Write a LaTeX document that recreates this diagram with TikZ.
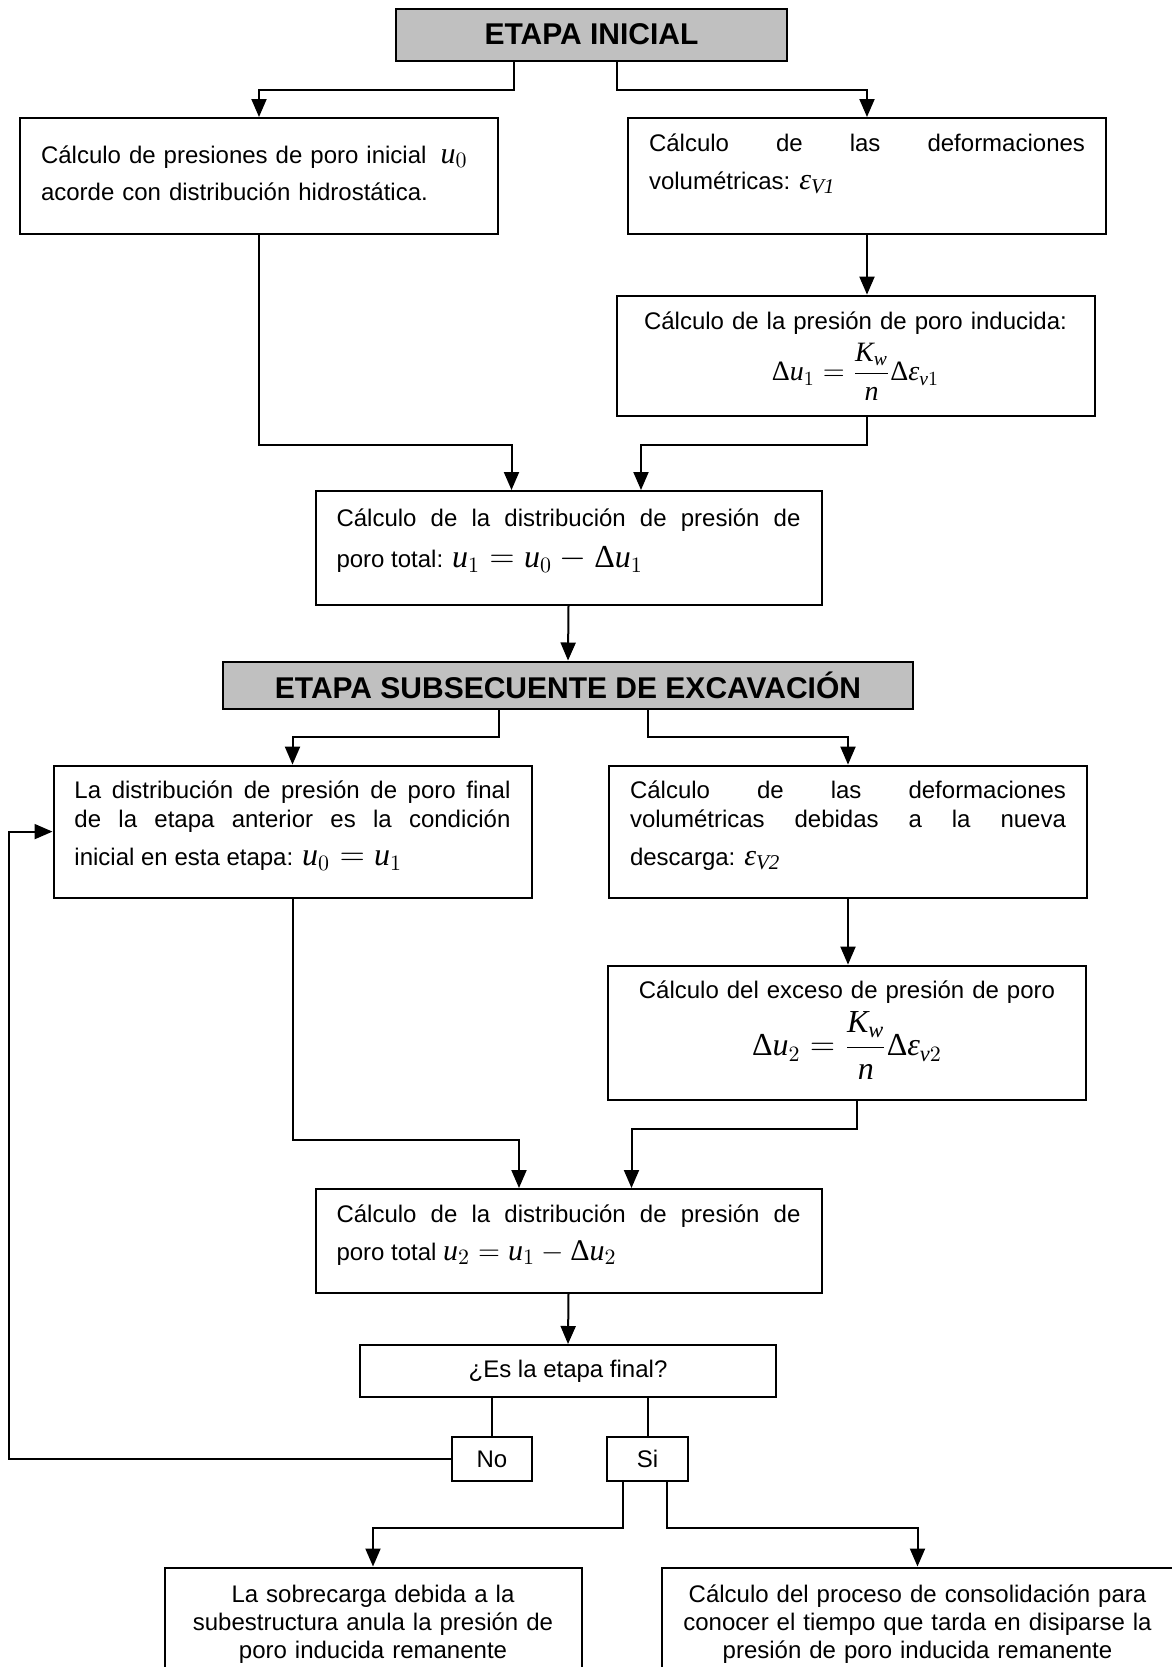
\documentclass[tikz,border=0pt]{standalone}
\usepackage{fontspec}
\setmainfont{Liberation Sans}
\newfontfamily\timesfam[NFSSFamily=libserif]{Liberation Serif}
\usepackage{xcolor}
\definecolor{mainDark}{HTML}{000000}
\definecolor{stageColor}{HTML}{C0C0C0}
\usepackage{tikz}
\usetikzlibrary{positioning,calc,arrows.meta}
\hyphenpenalty=10000
\exhyphenpenalty=10000
% serif letters for the formulas
\DeclareSymbolFont{timesLetters}{TU}{libserif}{m}{it}
\DeclareSymbolFont{timesUpright}{TU}{libserif}{m}{n}
\DeclareMathAlphabet{\mathtit}{TU}{libserif}{m}{it}
\DeclareMathSymbol{u}{\mathalpha}{timesLetters}{`u}
\DeclareMathSymbol{K}{\mathalpha}{timesLetters}{`K}
\DeclareMathSymbol{w}{\mathalpha}{timesLetters}{`w}
\DeclareMathSymbol{n}{\mathalpha}{timesLetters}{`n}
\DeclareMathSymbol{v}{\mathalpha}{timesLetters}{`v}
\DeclareMathSymbol{0}{\mathalpha}{timesUpright}{`0}
\DeclareMathSymbol{1}{\mathalpha}{timesUpright}{`1}
\DeclareMathSymbol{2}{\mathalpha}{timesUpright}{`2}
\newcommand{\tDelta}{\mbox{\timesfam Δ}}
\newcommand{\tEps}{\mbox{\timesfam\itshape ε}}
\newcommand{\mathAt}[2]{\mbox{\fontsize{#1}{#1}\selectfont$#2$}}
\tikzset{
  stageBox/.style={
    rectangle,
    draw=mainDark,
    line width=1pt,
    fill=stageColor,
    font=\fontsize{15}{17}\selectfont\bfseries,
    align=center
 },
  stepBox/.style={
    rectangle,
    draw=mainDark,
    line width=1pt,
    fill=white,
    anchor=north,
    inner xsep=10.5pt,
    inner ysep=0pt,
    text width=218pt,
    align=justify,
    font=\fontsize{12}{14.5}\selectfont
 },
  askBox/.style={
    rectangle,
    draw=mainDark,
    line width=1pt,
    fill=white,
    align=center,
    font=\fontsize{12}{14.5}\selectfont
 },
  arrowLine/.style={
    -{Triangle[length=9pt,width=7.5pt]},
    line width=1pt,
    color=mainDark
 },
  plainLine/.style={
    line width=1pt,
    color=mainDark
 }
}

\begin{document}
\begin{tikzpicture}[x=0.5pt,y=-0.5pt]
            \useasboundingbox (0,0) rectangle (1172,1667);
            \clip (0,0) rectangle (1172,1667);
            \fill[white] (0,0) rectangle (1172,1667);

            % initial stage
            \node[stageBox, minimum width=195.7pt, minimum height=26pt] (ini) at (591.5,34.5) {ETAPA INICIAL};
            \node[stepBox, align=left, minimum width=239pt, text height=22.5pt, text depth=35.5pt,
                  font=\fontsize{12}{18.5}\selectfont] (pore0) at (259,117)
                  {Cálculo de presiones de poro inicial\hspace{7pt}\mathAt{15}{u_0}\\ acorde con distribución hidrostática.};
            \node[stepBox, minimum width=239pt, text height=16.8pt, text depth=41.2pt,
                  font=\fontsize{12}{19}\selectfont] (strain1) at (867,117)
                  {Cálculo de las deformaciones\linebreak volumétricas: \mathAt{15}{\tEps_{\mathtit{V1}}}};
            \node[stepBox, align=center, minimum width=239pt, text height=16.7pt, text depth=43.3pt] (induced1) at (855.5,294.6)
                  {Cálculo de la presión de poro inducida:\\[3.5pt] \mathAt{14}{\displaystyle\tDelta u_1=\frac{K_w}{n}\tDelta\tEps_{v1}}};
            \node[stepBox, minimum width=253pt, text width=232pt, text height=17.5pt, text depth=39.5pt,
                  font=\fontsize{12}{20.7}\selectfont] (total1) at (568.5,490)
                  {Cálculo de la distribución de presión de\linebreak poro total: \mathAt{16}{u_1=u_0-\tDelta u_1}};

            \draw[arrowLine] ($(ini.south)+(-78,0)$) -- ++(0,28.5) -| (pore0.north);
            \draw[arrowLine] ($(ini.south)+(25.5,0)$) -- ++(0,28.5) -| (strain1.north);
            \draw[arrowLine] (strain1.south) -- (strain1.south |- induced1.north);
            \draw[arrowLine] (pore0.south) |- ($(total1.north)+(-57,-45.5)$) -- ($(total1.north)+(-57,0)$);
            \draw[arrowLine] (strain1.south |- induced1.south) |- ($(total1.north)+(72.5,-45.5)$) -- ($(total1.north)+(72.5,0)$);

            % subsequent stage
            \node[stageBox, minimum width=345pt, minimum height=23.5pt] (next) at (568,685) {ETAPA SUBSECUENTE DE EXCAVACIÓN};
            \draw[arrowLine] (total1.south) -- (next.north);

            \node[stepBox, minimum width=239pt, text height=16.3pt, text depth=49.7pt] (prev) at (292.5,764.6)
                  {La distribución de presión de poro final\linebreak de la etapa anterior es la condición\vspace{4.5pt}\linebreak inicial en esta etapa: \mathAt{16}{u_0=u_1}};
            \node[stepBox, minimum width=239pt, text height=16.3pt, text depth=49.7pt] (strain2) at (848,764.6)
                  {Cálculo de las deformaciones\linebreak volumétricas debidas a la nueva\vspace{4.5pt}\linebreak descarga: \mathAt{15}{\tEps_{\mathtit{V2}}}};
            \node[stepBox, align=center, minimum width=239pt, text height=16.5pt, text depth=50.5pt] (induced2) at (847,964.6)
                  {Cálculo del exceso de presión de poro\\[3pt] \mathAt{16}{\displaystyle\tDelta u_2=\frac{K_w}{n}\tDelta\tEps_{v2}}};
            \node[stepBox, minimum width=253pt, text width=232pt, text height=16.5pt, text depth=35.5pt,
                  font=\fontsize{12}{19}\selectfont] (total2) at (568.5,1188)
                  {Cálculo de la distribución de presión de\linebreak poro total \mathAt{15}{u_2=u_1-\tDelta u_2}};

            \draw[arrowLine] ($(next.south)+(-69,0)$) -- ++(0,27) -| (prev.north);
            \draw[arrowLine] ($(next.south)+(79.5,0)$) -- ++(0,27) -| (strain2.north);
            \draw[arrowLine] (strain2.south) -- (strain2.south |- induced2.north);
            \draw[arrowLine] (prev.south) |- ($(total2.north)+(-49.5,-48)$) -- ($(total2.north)+(-49.5,0)$);
            \draw[arrowLine] ($(induced2.south)+(10,0)$) |- ($(total2.north)+(63,-58.6)$) -- ($(total2.north)+(63,0)$);

            % decision
            \node[askBox, minimum width=207.8pt, minimum height=26pt] (last) at (568,1371) {¿Es la etapa final?};
            \node[askBox, minimum width=40pt, minimum height=22.3pt] (no) at (492,1459) {No};
            \node[askBox, minimum width=40.5pt, minimum height=22.3pt] (yes) at (647.5,1459) {Si};

            \draw[arrowLine] (total2.south) -- (last.north);
            \draw[plainLine] (no.north |- last.south) -- (no.north);
            \draw[plainLine] (yes.north |- last.south) -- (yes.north);
            \draw[arrowLine] (no.west) -| ($(prev.west)+(-43.5,0)$) -- (prev.west);

            % final results
            \node[stepBox, align=center, inner xsep=2pt, minimum width=208.5pt, text width=204pt, text height=17.7pt, text depth=42.3pt,
                  font=\fontsize{12}{13.8}\selectfont] (cover) at (373,1566.5)
                  {La sobrecarga debida a la\\ subestructura anula la presión de\\ poro inducida remanente};
            \node[stepBox, align=center, inner xsep=2pt, minimum width=256pt, text width=252pt, text height=17.7pt, text depth=42.3pt,
                  font=\fontsize{12}{13.8}\selectfont] (conso) at (917.5,1566.5)
                  {Cálculo del proceso de consolidación para\\ conocer el tiempo que tarda en disiparse la\\ presión de poro inducida remanente};

            \draw[arrowLine] ($(yes.south)+(-24.5,0)$) -- ++(0,46) -| (cover.north);
            \draw[arrowLine] ($(yes.south)+(19.5,0)$) -- ++(0,46) -| (conso.north);
\end{tikzpicture}
\end{document}
